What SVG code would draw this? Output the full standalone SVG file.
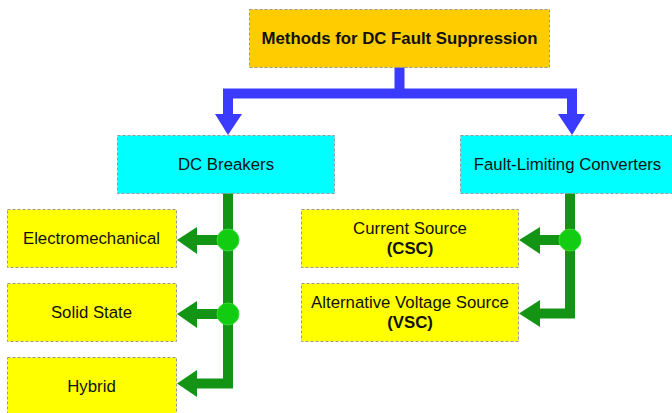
<svg xmlns="http://www.w3.org/2000/svg" width="672" height="413" viewBox="0 0 672 413">
  <style>
    .box { stroke: #999999; stroke-width: 1; stroke-dasharray: 3 2; }
    .root { fill: #FFCC00; }
    .cat { fill: #00FFFF; }
    .leaf { fill: #FFFF00; }
    .txt { font-family: "Liberation Sans", Arial, sans-serif; font-size: 16.8px; fill: #111111; text-anchor: middle; }
    .bold { font-weight: bold; }
    .blue { fill: none; stroke: #3B3BFF; stroke-width: 10; stroke-linejoin: miter; }
    .blueHead { fill: #3B3BFF; }
    .green { fill: none; stroke: #149414; stroke-width: 10; stroke-linejoin: miter; }
    .greenHead { fill: #149414; }
    .dot { fill: #11CC11; stroke: #33DD33; stroke-width: 1; }
  </style>

  <!-- connectors -->
  <g id="connectors">
    <path class="blue" d="M399.5 67 V93.5 M228 116 V93.5 H572 V116"/>
    <polygon class="blueHead" points="215,114 242,114 228,135"/>
    <polygon class="blueHead" points="558,114 585,114 572,135"/>

    <path class="green" d="M228 193 V383.5 H195 M228 240 H195 M228 314 H195"/>
    <polygon class="greenHead" points="197,227 197,254 177,240"/>
    <polygon class="greenHead" points="197,301 197,328 177,314"/>
    <polygon class="greenHead" points="197,370 197,397 177,383.5"/>
    <circle class="dot" cx="228" cy="240" r="11"/>
    <circle class="dot" cx="228" cy="314" r="11"/>

    <path class="green" d="M570 193 V313.5 H538 M570 240 H538"/>
    <polygon class="greenHead" points="540,227 540,254 519,240"/>
    <polygon class="greenHead" points="540,300 540,327 519,313.5"/>
    <circle class="dot" cx="570" cy="240" r="11"/>
  </g>

  <g id="root">
    <rect class="box root" x="249.5" y="9.5" width="300" height="58"/>
    <text class="txt bold" x="399.5" y="44">Methods for DC Fault Suppression</text>
  </g>

  <g id="dc-breakers">
    <rect class="box cat" x="117.5" y="135.5" width="217" height="58"/>
    <text class="txt" x="226" y="170">DC Breakers</text>
  </g>

  <g id="fault-limiting">
    <rect class="box cat" x="460.5" y="135.5" width="220" height="58"/>
    <text class="txt" x="567.5" y="170">Fault-Limiting Converters</text>
  </g>

  <g id="electromechanical">
    <rect class="box leaf" x="7.5" y="209.5" width="169" height="58"/>
    <text class="txt" x="91.5" y="244">Electromechanical</text>
  </g>

  <g id="solid-state">
    <rect class="box leaf" x="7.5" y="283.5" width="169" height="58"/>
    <text class="txt" x="91.5" y="318">Solid State</text>
  </g>

  <g id="hybrid">
    <rect class="box leaf" x="7.5" y="357.5" width="169" height="62"/>
    <text class="txt" x="91.5" y="391.5">Hybrid</text>
  </g>

  <g id="current-source">
    <rect class="box leaf" x="301.5" y="209.5" width="217" height="58"/>
    <text class="txt" x="410" y="233.5">Current Source</text>
    <text class="txt bold" x="410" y="253.5">(CSC)</text>
  </g>

  <g id="voltage-source">
    <rect class="box leaf" x="301.5" y="283.5" width="217" height="58"/>
    <text class="txt" x="410" y="307.5">Alternative Voltage Source</text>
    <text class="txt bold" x="410" y="327.5">(VSC)</text>
  </g>
</svg>
